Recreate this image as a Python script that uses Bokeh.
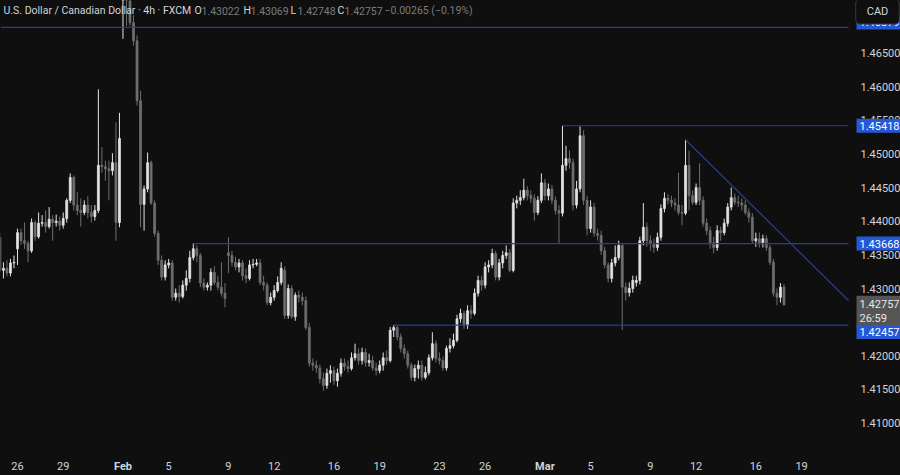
from bokeh.plotting import figure
from bokeh.models import ColumnDataSource, FixedTicker, Label, LinearAxis, Range1d, PrintfTickFormatter
from bokeh.embed import file_html
from bokeh.resources import INLINE

# ---------------- data (USD/CAD, 4h bars, index 0 = first bar of Jan 26) ----------------
first_bar = -5
opens = [
    1.4376, 1.4327, 1.4330, 1.4323, 1.4338, 1.4359, 1.4383, 1.4371, 1.4367, 1.4356,
    1.4398, 1.4377, 1.4397, 1.4398, 1.4392, 1.4403, 1.4398, 1.4400, 1.4394, 1.4404,
    1.4431, 1.4465, 1.4424, 1.4416, 1.4413, 1.4424, 1.4413, 1.4407, 1.4416, 1.4483,
    1.4481, 1.4478, 1.4475, 1.4487, 1.4398, 1.4745, 1.4765, 1.4735, 1.4695, 1.4668,
    1.4579, 1.4425, 1.4448, 1.4487, 1.4427, 1.4382, 1.4342, 1.4317, 1.4335, 1.4338,
    1.4287, 1.4293, 1.4288, 1.4305, 1.4315, 1.4346, 1.4359, 1.4349, 1.4308, 1.4302,
    1.4305, 1.4324, 1.4309, 1.4302, 1.4293, 1.4353, 1.4349, 1.4339, 1.4332, 1.4338,
    1.4319, 1.4315, 1.4335, 1.4336, 1.4338, 1.4309, 1.4305, 1.4279, 1.4287, 1.4297,
    1.4309, 1.4327, 1.4260, 1.4300, 1.4258, 1.4290, 1.4287, 1.4282, 1.4242, 1.4189,
    1.4186, 1.4182, 1.4166, 1.4156, 1.4174, 1.4178, 1.4163, 1.4174, 1.4189, 1.4184,
    1.4181, 1.4197, 1.4203, 1.4193, 1.4205, 1.4190, 1.4193, 1.4182, 1.4178, 1.4186,
    1.4197, 1.4193, 1.4238, 1.4242, 1.4228, 1.4211, 1.4203, 1.4186, 1.4168, 1.4181,
    1.4186, 1.4168, 1.4175, 1.4197, 1.4218, 1.4196, 1.4193, 1.4182, 1.4211, 1.4215,
    1.4223, 1.4255, 1.4263, 1.4245, 1.4267, 1.4263, 1.4293, 1.4312, 1.4305, 1.4332,
    1.4335, 1.4352, 1.4317, 1.4338, 1.4349, 1.4353, 1.4327, 1.4427, 1.4431, 1.4435,
    1.4446, 1.4438, 1.4434, 1.4413, 1.4431, 1.4457, 1.4438, 1.4448, 1.4431, 1.4416,
    1.4412, 1.4483, 1.4493, 1.4487, 1.4424, 1.4448, 1.4527, 1.4431, 1.4389, 1.4421,
    1.4382, 1.4379, 1.4356, 1.4335, 1.4315, 1.4338, 1.4346, 1.4364, 1.4302, 1.4294,
    1.4300, 1.4309, 1.4312, 1.4371, 1.4391, 1.4371, 1.4367, 1.4361, 1.4376, 1.4419,
    1.4434, 1.4431, 1.4427, 1.4424, 1.4413, 1.4412, 1.4483, 1.4438, 1.4428, 1.4450,
    1.4431, 1.4397, 1.4386, 1.4368, 1.4361, 1.4386, 1.4383, 1.4397, 1.4421, 1.4435,
    1.4428, 1.4427, 1.4424, 1.4413, 1.4406, 1.4371, 1.4374, 1.4368, 1.4374, 1.4361,
    1.4339, 1.4293, 1.4287, 1.43022,
]
highs = [
    1.4383, 1.4339, 1.4342, 1.4344, 1.4349, 1.4389, 1.4389, 1.4398, 1.4371, 1.4404,
    1.4401, 1.4413, 1.4409, 1.4416, 1.4421, 1.4409, 1.4410, 1.4407, 1.4413, 1.4434,
    1.4471, 1.4468, 1.4443, 1.4434, 1.4431, 1.4437, 1.4424, 1.4424, 1.4596, 1.4510,
    1.4490, 1.4490, 1.4501, 1.4547, 1.4561, 1.4792, 1.4780, 1.4750, 1.4706, 1.4676,
    1.4594, 1.4453, 1.4502, 1.4490, 1.4431, 1.4386, 1.4349, 1.4342, 1.4344, 1.4342,
    1.4300, 1.4305, 1.4312, 1.4327, 1.4356, 1.4367, 1.4364, 1.4353, 1.4315, 1.4309,
    1.4330, 1.4333, 1.4319, 1.4339, 1.4308, 1.4376, 1.4356, 1.4347, 1.4344, 1.4342,
    1.4330, 1.4342, 1.4344, 1.4344, 1.4344, 1.4319, 1.4309, 1.4294, 1.4305, 1.4318,
    1.4339, 1.4333, 1.4306, 1.4305, 1.4294, 1.4297, 1.4294, 1.4288, 1.4249, 1.4196,
    1.4193, 1.4187, 1.4175, 1.4181, 1.4186, 1.4184, 1.4181, 1.4196, 1.4196, 1.4193,
    1.4205, 1.4218, 1.4211, 1.4212, 1.4211, 1.4203, 1.4200, 1.4190, 1.4193, 1.4205,
    1.4208, 1.4243, 1.42457, 1.4245, 1.4233, 1.4217, 1.4208, 1.4190, 1.4187, 1.4193,
    1.4193, 1.4184, 1.4202, 1.4235, 1.4223, 1.4205, 1.4199, 1.4215, 1.4226, 1.4233,
    1.4261, 1.4270, 1.4267, 1.4275, 1.4275, 1.4300, 1.4319, 1.4319, 1.4339, 1.4342,
    1.4359, 1.4356, 1.4344, 1.4356, 1.4364, 1.4359, 1.4434, 1.4438, 1.4446, 1.4463,
    1.4452, 1.4446, 1.4440, 1.4437, 1.4471, 1.4463, 1.4456, 1.4454, 1.4437, 1.4424,
    1.45418, 1.4512, 1.4505, 1.4493, 1.4460, 1.4541, 1.4535, 1.4438, 1.4431, 1.4427,
    1.4389, 1.4386, 1.4362, 1.4339, 1.4344, 1.4364, 1.4371, 1.4367, 1.4309, 1.4309,
    1.4319, 1.4319, 1.4377, 1.4427, 1.4398, 1.4379, 1.4374, 1.4383, 1.4425, 1.4443,
    1.4440, 1.4438, 1.4434, 1.4472, 1.4424, 1.4521, 1.4505, 1.4446, 1.4456, 1.4486,
    1.4437, 1.4404, 1.4392, 1.4377, 1.4394, 1.4392, 1.4404, 1.4427, 1.4450, 1.4441,
    1.4438, 1.4434, 1.4431, 1.4419, 1.4412, 1.4383, 1.4383, 1.4380, 1.4379, 1.4365,
    1.4344, 1.4300, 1.4308, 1.43069,
]
lows = [
    1.4324, 1.4315, 1.4318, 1.4318, 1.4330, 1.4335, 1.4365, 1.4359, 1.4339, 1.4353,
    1.4371, 1.4374, 1.4392, 1.4383, 1.4389, 1.4371, 1.4392, 1.4386, 1.4389, 1.4398,
    1.4427, 1.4416, 1.4409, 1.4392, 1.4409, 1.4404, 1.4398, 1.4401, 1.4412, 1.4472,
    1.4460, 1.4431, 1.4468, 1.4371, 1.4391, 1.4671, 1.4690, 1.4690, 1.4661, 1.4572,
    1.4391, 1.4386, 1.4443, 1.4424, 1.4377, 1.4335, 1.4312, 1.4312, 1.4330, 1.4282,
    1.4282, 1.4279, 1.4285, 1.4297, 1.4309, 1.4342, 1.4339, 1.4302, 1.4297, 1.4297,
    1.4297, 1.4305, 1.4297, 1.4288, 1.4272, 1.4323, 1.4333, 1.4327, 1.4324, 1.4312,
    1.4308, 1.4312, 1.4330, 1.4333, 1.4305, 1.4297, 1.4275, 1.4275, 1.4282, 1.4294,
    1.4305, 1.4255, 1.4255, 1.4255, 1.4252, 1.4279, 1.4275, 1.4238, 1.4184, 1.4178,
    1.4175, 1.4159, 1.4148, 1.4151, 1.4160, 1.4157, 1.4154, 1.4169, 1.4178, 1.4175,
    1.4178, 1.4193, 1.4187, 1.4187, 1.4184, 1.4184, 1.4178, 1.4171, 1.4174, 1.4178,
    1.4187, 1.4190, 1.4228, 1.4223, 1.4205, 1.4196, 1.4181, 1.4163, 1.4162, 1.4166,
    1.4163, 1.4165, 1.4171, 1.4193, 1.4190, 1.4187, 1.4178, 1.4178, 1.4205, 1.4211,
    1.4220, 1.4249, 1.4240, 1.4240, 1.4255, 1.4260, 1.4288, 1.4297, 1.4300, 1.4324,
    1.4330, 1.4312, 1.4312, 1.4330, 1.4344, 1.4324, 1.4324, 1.4419, 1.4424, 1.4431,
    1.4431, 1.4427, 1.4401, 1.4409, 1.4427, 1.4431, 1.4431, 1.4425, 1.4410, 1.4368,
    1.4407, 1.4475, 1.4478, 1.4416, 1.4419, 1.4443, 1.4424, 1.4379, 1.4383, 1.4377,
    1.4371, 1.4350, 1.4330, 1.4309, 1.4309, 1.4333, 1.4342, 1.4238, 1.4282, 1.4288,
    1.4294, 1.4303, 1.4306, 1.4364, 1.4362, 1.4356, 1.4353, 1.4356, 1.4371, 1.4413,
    1.4425, 1.4421, 1.4416, 1.4409, 1.4394, 1.4409, 1.4416, 1.4424, 1.4424, 1.4424,
    1.4392, 1.4379, 1.4359, 1.4352, 1.4356, 1.4371, 1.4379, 1.4392, 1.4416, 1.4424,
    1.4421, 1.4416, 1.4409, 1.4398, 1.4367, 1.4362, 1.4361, 1.4361, 1.4356, 1.4335,
    1.4288, 1.4275, 1.4279, 1.42748,
]
closes = [
    1.4327, 1.4330, 1.4323, 1.4338, 1.4339, 1.4383, 1.4371, 1.4367, 1.4356, 1.4398,
    1.4377, 1.4397, 1.4398, 1.4392, 1.4403, 1.4398, 1.4400, 1.4394, 1.4404, 1.4431,
    1.4465, 1.4424, 1.4416, 1.4413, 1.4424, 1.4413, 1.4407, 1.4416, 1.4483, 1.4481,
    1.4478, 1.4475, 1.4487, 1.4398, 1.4523, 1.4765, 1.4735, 1.4695, 1.4668, 1.4579,
    1.4425, 1.4448, 1.4487, 1.4427, 1.4382, 1.4342, 1.4317, 1.4335, 1.4338, 1.4287,
    1.4293, 1.4288, 1.4305, 1.4315, 1.4346, 1.4359, 1.4349, 1.4308, 1.4302, 1.4305,
    1.4324, 1.4309, 1.4302, 1.4293, 1.4285, 1.4349, 1.4339, 1.4332, 1.4338, 1.4319,
    1.4315, 1.4335, 1.4336, 1.4338, 1.4309, 1.4305, 1.4279, 1.4287, 1.4297, 1.4309,
    1.4330, 1.4260, 1.4300, 1.4258, 1.4290, 1.4287, 1.4282, 1.4242, 1.4189, 1.4186,
    1.4182, 1.4166, 1.4156, 1.4174, 1.4178, 1.4163, 1.4174, 1.4189, 1.4184, 1.4181,
    1.4197, 1.4203, 1.4193, 1.4205, 1.4190, 1.4193, 1.4182, 1.4178, 1.4186, 1.4197,
    1.4193, 1.4238, 1.4242, 1.4228, 1.4211, 1.4203, 1.4186, 1.4168, 1.4181, 1.4186,
    1.4168, 1.4175, 1.4197, 1.4218, 1.4196, 1.4193, 1.4182, 1.4211, 1.4215, 1.4223,
    1.4255, 1.4263, 1.4245, 1.4267, 1.4263, 1.4293, 1.4312, 1.4305, 1.4332, 1.4335,
    1.4352, 1.4317, 1.4338, 1.4349, 1.4353, 1.4327, 1.4427, 1.4431, 1.4435, 1.4446,
    1.4438, 1.4434, 1.4413, 1.4431, 1.4457, 1.4438, 1.4448, 1.4431, 1.4416, 1.4412,
    1.4483, 1.4493, 1.4487, 1.4424, 1.4448, 1.4527, 1.4431, 1.4389, 1.4421, 1.4382,
    1.4379, 1.4356, 1.4335, 1.4315, 1.4338, 1.4346, 1.4364, 1.4302, 1.4294, 1.4300,
    1.4312, 1.4312, 1.4371, 1.4391, 1.4371, 1.4367, 1.4361, 1.4376, 1.4419, 1.4434,
    1.4431, 1.4427, 1.4424, 1.4413, 1.4412, 1.4483, 1.4438, 1.4428, 1.4450, 1.4431,
    1.4397, 1.4386, 1.4368, 1.4361, 1.4386, 1.4383, 1.4397, 1.4421, 1.4435, 1.4428,
    1.4427, 1.4424, 1.4413, 1.4406, 1.4371, 1.4374, 1.4368, 1.4374, 1.4361, 1.4339,
    1.4293, 1.4287, 1.4302, 1.42757,
]

date_ticks = [0, 13, 30, 43, 60, 73, 90, 103, 120, 133, 150, 163, 180, 193, 210, 223]
date_labels = ["26", "29", "Feb", "5", "9", "12", "16", "19", "23", "26", "Mar", "5", "9", "12", "16", "19"]
month_ticks = [30, 150]
price_ticks = [1.410, 1.415, 1.420, 1.425, 1.430, 1.435, 1.440, 1.445, 1.450, 1.455, 1.460, 1.465]

level_prices = [1.46879, 1.45418, 1.43668, 1.42457]
level_start_bar = [-5, 155, 50, 107]
trend_bars = [190, 203]
trend_prices = [1.4521, 1.4454]

symbol_text = "U.S. Dollar / Canadian Dollar \u00b7 4h \u00b7 FXCM"
ohlc_names = ["O", "H", "L", "C"]
ohlc_values = ["1.43022", "1.43069", "1.42748", "1.42757"]
change_text = "\u22120.00265 (\u22120.19%)"
last_price = 1.42757
countdown = "26:59"
currency = "CAD"

# ---------------- style / layout ----------------
BG = "#0f0f0f"
UP = "#e2e2e2"
DOWN = "#6e6e6e"
LEVEL = "#27408c"
BLUE = "#2458d6"
TXT = "#d1d4dc"
DIM = "#7c7c7c"
FONT = "Roboto"

X_START = -4.835        # left edge of the chart
X_AXIS = 236.35         # where the price scale begins
X_END = 251.14          # right edge of the canvas
Y_AXIS = 1.405186       # where the time scale begins
Y_BOTTOM = 1.402215     # bottom edge of the canvas
Y_END = 1.472794        # top edge

p = figure(width=900, height=475, x_range=Range1d(X_START, X_END), y_range=Range1d(Y_BOTTOM, Y_END),
           output_backend="svg", toolbar_location=None, x_axis_location=None, y_axis_location=None,
           background_fill_color=BG, border_fill_color=BG, outline_line_color=None,
           min_border_left=0, min_border_top=0, min_border_right=0, min_border_bottom=0)
p.xgrid.visible = False
p.ygrid.visible = False

bars = list(range(first_bar, first_bar + len(closes)))
up = dict(x=[], lo=[], hi=[], top=[], bot=[])
dn = dict(x=[], lo=[], hi=[], top=[], bot=[])
for b, o, h, l, c in zip(bars, opens, highs, lows, closes):
    d = up if c >= o else dn
    d["x"].append(b); d["lo"].append(l); d["hi"].append(h)
    d["top"].append(max(o, c)); d["bot"].append(min(o, c))

for d, col in ((dn, DOWN), (up, UP)):
    src = ColumnDataSource(d)
    p.segment(x0="x", y0="lo", x1="x", y1="hi", source=src, line_color=col, line_width=1)
    p.vbar(x="x", width=0.55, top="top", bottom="bot", source=src,
           fill_color=col, line_color=col, line_width=0.8)

# horizontal levels
for lp, sb in zip(level_prices, level_start_bar):
    p.segment(x0=[max(sb, X_START)], y0=[lp], x1=[X_AXIS], y1=[lp], line_color=LEVEL, line_width=1.2)

# trend line (extended to the price scale)
slope = (trend_prices[1] - trend_prices[0]) / (trend_bars[1] - trend_bars[0])
p.segment(x0=[trend_bars[0]], y0=[trend_prices[0]], x1=[X_AXIS],
          y1=[trend_prices[0] + slope * (X_AXIS - trend_bars[0])], line_color=LEVEL, line_width=1.2)

# axes
yax = LinearAxis(ticker=FixedTicker(ticks=price_ticks), formatter=PrintfTickFormatter(format="%.5f"),
                 fixed_location=X_AXIS)
xax = LinearAxis(ticker=FixedTicker(ticks=date_ticks), fixed_location=Y_AXIS,
                 major_label_overrides={t: ("" if t in month_ticks else lab) for t, lab in zip(date_ticks, date_labels)})
for ax in (yax, xax):
    ax.axis_line_color = None
    ax.major_tick_line_color = None
    ax.minor_tick_line_color = None
    ax.major_tick_out = 0
    ax.major_tick_in = 0
    ax.major_label_text_color = TXT
    ax.major_label_text_font = FONT
    ax.major_label_text_font_size = "11px"
yax.major_label_standoff = 12
xax.major_label_standoff = 6
p.add_layout(yax, "right")
p.add_layout(xax, "below")

for t, lab in zip(date_ticks, date_labels):
    if t in month_ticks:
        p.add_layout(Label(x=t, y=Y_AXIS, y_offset=-11, text=lab, text_align="center",
                           text_baseline="middle", text_color=TXT, text_font=FONT,
                           text_font_size="11px", text_font_style="bold"))

# price boxes on the scale
def price_box(y, text, y_offset=0, fill=BLUE, color="#ffffff", baseline="middle", pad=3):
    p.add_layout(Label(x=X_AXIS, y=y, x_offset=8, y_offset=y_offset, text=text, text_align="left",
                       text_baseline=baseline, text_color=color, text_font=FONT, text_line_height=1.1,
                       text_font_size="11px", background_fill_color=fill, padding=pad))

price_box(level_prices[0], f"{level_prices[0]:.5f}", y_offset=5)
price_box(level_prices[1], f"{level_prices[1]:.5f}")
price_box(level_prices[2], f"{level_prices[2]:.5f}")
price_box(last_price, f"{last_price:.5f}\n{countdown}", y_offset=9, fill="#555555",
          color="#e8e8e8", baseline="top", pad=dict(left=3, right=3, top=2, bottom=2))
price_box(level_prices[3], f"{level_prices[3]:.5f}", y_offset=-7)

p.add_layout(Label(x=X_AXIS, y=Y_END, x_offset=29, y_offset=-11, text=currency,
                   text_align="center", text_baseline="middle", text_color=TXT, text_font=FONT,
                   text_font_size="11px", background_fill_color=BG, border_line_color="#3a3a3a",
                   border_radius=4, padding=dict(left=11, right=11, top=6, bottom=6)))

# header
def header(offset, text, color):
    p.add_layout(Label(x=X_START, y=Y_END, x_offset=offset, y_offset=-10, text=text,
                       text_baseline="middle", text_color=color, text_font=FONT, text_font_size="10.5px"))

header(3, symbol_text, TXT)
name_x = [194, 243, 290, 337]
for nx, nm, vl in zip(name_x, ohlc_names, ohlc_values):
    header(nx, nm, TXT)
    header(nx + 7, vl, DIM)
header(384, change_text, DIM)

template = """
{% block preamble %}
<style>html, body { margin: 0 !important; padding: 0; background: #0f0f0f; overflow: hidden; }</style>
{% endblock %}
"""
open("out.html", "w").write(file_html(p, INLINE, "USDCAD", template=template))
